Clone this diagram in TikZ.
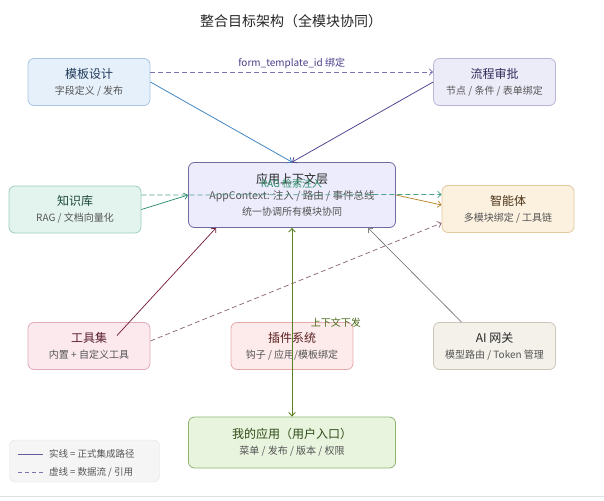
\documentclass[tikz,border=0pt]{standalone}
\usepackage{fontspec}
\setmainfont{Noto Sans CJK SC}
\usetikzlibrary{arrows.meta}
\definecolor{subgray}{HTML}{555555}
\definecolor{tmplfill}{HTML}{E6F0FA}\definecolor{tmpldraw}{HTML}{A8C6E4}\definecolor{tmpltext}{HTML}{1F3A5A}
\definecolor{apprfill}{HTML}{ECEBF8}\definecolor{apprdraw}{HTML}{B9B5D8}\definecolor{apprtext}{HTML}{2E2A5A}
\definecolor{kbfill}{HTML}{E3F4EE}\definecolor{kbdraw}{HTML}{9CCFB9}\definecolor{kbtext}{HTML}{1C4A3A}
\definecolor{ctxfill}{HTML}{ECECFC}\definecolor{ctxdraw}{HTML}{6E6C9E}
\definecolor{agentfill}{HTML}{FCF0DF}\definecolor{agentdraw}{HTML}{E2C9A0}\definecolor{agenttext}{HTML}{4A3418}
\definecolor{toolfill}{HTML}{FCE9EE}\definecolor{tooldraw}{HTML}{DFA9BA}\definecolor{tooltext}{HTML}{5A1E30}
\definecolor{plugfill}{HTML}{FDEAEA}\definecolor{plugdraw}{HTML}{E4AAAA}\definecolor{plugtext}{HTML}{5A1E1E}
\definecolor{gwfill}{HTML}{F3F1EA}\definecolor{gwdraw}{HTML}{CBC6B8}
\definecolor{appfill}{HTML}{E9F4DF}\definecolor{appdraw}{HTML}{8FB36F}\definecolor{apptext}{HTML}{2D4A14}
\definecolor{bluelink}{HTML}{3A80BE}\definecolor{purplelink}{HTML}{4A3F8C}\definecolor{greenlink}{HTML}{2F8F6A}
\definecolor{orangelink}{HTML}{B8862D}\definecolor{redlink}{HTML}{7A2040}\definecolor{olivelink}{HTML}{5A821E}
\definecolor{mauvelink}{HTML}{8E6A82}\definecolor{tealdash}{HTML}{4AA08A}\definecolor{purpledash}{HTML}{7D73B0}
\newcommand{\boxtext}[2]{{\fontsize{12}{16}\selectfont #1}\\\textcolor{subgray}{#2}}
\begin{document}
\begin{tikzpicture}[x=1pt,y=-1pt,
 box/.style={draw,rounded corners=6pt,line width=0.8pt,align=center,inner sep=0pt,font=\fontsize{10}{16}\selectfont,text=black!85},
 small/.style={box,minimum width=122pt,minimum height=47pt},
 wide/.style={box,minimum width=132pt,minimum height=47pt},
 link/.style={line width=0.75pt,-{Straight Barb[length=3.5pt,width=6.5pt]}},
 dataflow/.style={link,dash pattern=on 5pt off 3pt},
 lbl/.style={font=\fontsize{10}{12}\selectfont}]
\useasboundingbox (0,0) rectangle (604,500);
\node[font=\fontsize{14}{16}\selectfont,text=black!85] (title) at (291,21) {整合目标架构（全模块协同）};
\node[small,fill=tmplfill,draw=tmpldraw,text=tmpltext] (tmpl) at (89,82) {\boxtext{模板设计}{字段定义 / 发布}};
\node[small,fill=apprfill,draw=apprdraw,text=apprtext] (approve) at (494.5,82) {\boxtext{流程审批}{节点 / 条件 / 表单绑定}};
\node[wide,fill=kbfill,draw=kbdraw,text=kbtext] (kb) at (75,209.5) {\boxtext{知识库}{RAG / 文档向量化}};
\node[box,fill=ctxfill,draw=ctxdraw,minimum width=207pt,minimum height=65pt] (ctx) at (292,195) {\boxtext{应用上下文层}{\fontsize{10.5}{16}\selectfont AppContext: 注入 / 路由 / 事件总线}\\\textcolor{subgray}{统一协调所有模块协同}};
\node[wide,fill=agentfill,draw=agentdraw,text=agenttext] (agent) at (508,209) {\boxtext{智能体}{多模块绑定 / 工具链}};
\node[small,fill=toolfill,draw=tooldraw,text=tooltext] (tools) at (89,346) {\boxtext{工具集}{内置 + 自定义工具}};
\node[small,fill=plugfill,draw=plugdraw,text=plugtext] (plugin) at (292,346) {\boxtext{插件系统}{钩子 / 应用/模板绑定}};
\node[small,fill=gwfill,draw=gwdraw] (gw) at (494.5,346) {\boxtext{AI 网关}{模型路由 / Token 管理}};
\node[box,fill=appfill,draw=appdraw,text=apptext,minimum width=207pt,minimum height=51pt] (app) at (292,442.5) {\boxtext{我的应用（用户入口）}{菜单 / 发布 / 版本 / 权限}};
\node[draw=black!12,fill=black!4,rounded corners=6pt,minimum width=150pt,minimum height=42pt] (legend) at (84.5,461) {};
\draw[dataflow,draw=purpledash] ([yshift=10pt]tmpl.east) -- ([yshift=10pt]approve.west) node[lbl,midway,above,text=purplelink] {form\_template\_id 绑定};
\draw[link,draw=bluelink] (tmpl.east) -- (ctx.north);
\draw[link,draw=purplelink] (approve.west) -- (ctx.north);
\draw[link,draw=greenlink] (kb.east) -- (ctx.west);
\draw[link,draw=orangelink] (ctx.east) -- ([yshift=4pt]agent.west);
\draw[link,draw=redlink] ([xshift=28pt,yshift=10.5pt]tools.center) -- ([xshift=-76pt]ctx.south);
\draw[dataflow,draw=mauvelink] ([yshift=5pt]tools.east) -- ([yshift=-14pt]agent.west);
\draw[link,draw=black!50] ([xshift=-33pt]gw.north) -- ([xshift=76pt]ctx.south);
\draw[link,{Straight Barb[length=3.5pt,width=6.5pt]}-{Straight Barb[length=3.5pt,width=6.5pt]},line width=0.9pt,draw=olivelink] (app.north) -- (ctx.south) node[lbl,midway,right=15pt,text=olivelink!80!black] {上下文下发};
\draw[dataflow,draw=tealdash] ([yshift=14.5pt]kb.east) -- ([yshift=14.5pt]agent.west) node[lbl,midway,above=3pt,text=greenlink] {RAG 检索注入};
\draw[line width=0.9pt,draw=purplelink!85] ([xshift=9pt,yshift=7pt]legend.west) -- ++(25,0) node[right=2pt,font=\fontsize{9.5}{11}\selectfont,text=subgray] {实线 = 正式集成路径};
\draw[line width=0.9pt,draw=purpledash,dash pattern=on 4pt off 3pt] ([xshift=9pt,yshift=-11pt]legend.west) -- ++(25,0) node[right=2pt,font=\fontsize{9.5}{11}\selectfont,text=subgray] {虚线 = 数据流 / 引用};
\draw[black!12] (0,496.5) -- (604,496.5);
\end{tikzpicture}
\end{document}
